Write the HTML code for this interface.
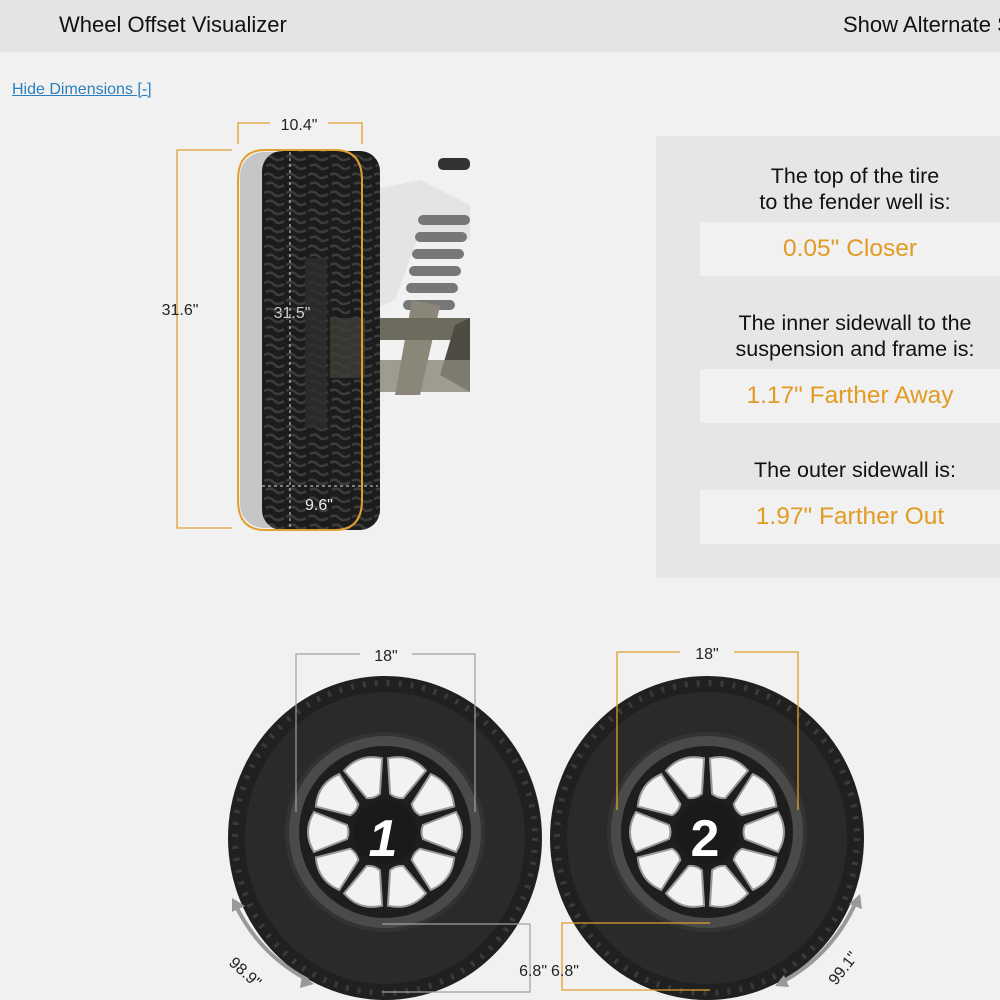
<!DOCTYPE html>
<html><head><meta charset="utf-8">
<style>
html,body{margin:0;padding:0;background:#f1f1f1;}
body{width:1000px;height:1000px;overflow:hidden;position:relative;font-family:"Liberation Sans",Arial,sans-serif;}
.hdr{position:absolute;left:0;top:0;width:1000px;height:52px;background:#e4e4e4;overflow:hidden;}
.hdr .t{position:absolute;left:59px;top:12px;font-size:22px;color:#111;}
.hdr .r{position:absolute;left:843px;top:12px;width:157px;overflow:hidden;font-size:22px;color:#111;white-space:nowrap;}
.link{position:absolute;left:12px;top:81px;font-size:16px;color:#2a7fc0;text-decoration:underline;}
.panel{position:absolute;left:656px;top:136px;width:344px;height:442px;background:#e6e6e6;}
.h{position:absolute;left:700px;width:300px;text-align:center;font-size:21.5px;color:#111;line-height:26px;white-space:nowrap;}
.box{position:absolute;left:700px;width:300px;height:54px;background:#f1f1f1;text-align:center;line-height:54px;font-size:24.5px;color:#e29b24;}
svg{position:absolute;left:0;top:0;}
</style></head><body>
<div class="hdr"><div class="t">Wheel Offset Visualizer</div><div class="r">Show Alternate Sizes</div></div>
<div class="link">Hide Dimensions [-]</div>
<div class="panel"></div>
<div class="h" style="top:163px;left:705px">The top of the tire<br>to the fender well is:</div>
<div class="box" style="top:222px">0.05" Closer</div>
<div class="h" style="top:310px;left:705px">The inner sidewall to the<br>suspension and frame is:</div>
<div class="box" style="top:369px">1.17" Farther Away</div>
<div class="h" style="top:457px;left:705px">The outer sidewall is:</div>
<div class="box" style="top:490px">1.97" Farther Out</div>

<svg width="1000" height="1000" viewBox="0 0 1000 1000" font-family="Liberation Sans, Arial, sans-serif">
<defs>
<path id="win" d="M -7,-38 L -20,-71 Q 0,-83 20,-71 L 7,-38 Q 0,-35 -7,-38 Z"/>
<pattern id="tread" width="22" height="18" patternUnits="userSpaceOnUse">
<rect width="22" height="18" fill="#1c1c1c"/>
<path d="M2 4 q5 -3 9 1 q4 4 9 0 M0 13 q5 -3 9 1 q4 4 11 0" stroke="#3c3c3c" stroke-width="2.5" fill="none"/>
</pattern>
<g id="wheel">
<ellipse cx="0" cy="0" rx="157" ry="162" fill="#202020"/>
<ellipse cx="0" cy="0" rx="150" ry="155" fill="none" stroke="#3a3a3a" stroke-width="6" stroke-dasharray="3 9"/>
<ellipse cx="0" cy="0" rx="140" ry="146" fill="#2a2a2a"/>
<circle cx="0" cy="-6" r="100" fill="#333"/>
<circle cx="0" cy="-6" r="96" fill="#4a4a4a"/>
<circle cx="0" cy="-6" r="86" fill="#1e1e1e"/>
<g transform="translate(0,-6)" fill="#f2f2f2" stroke="#999" stroke-width="2">
<use href="#win" transform="rotate(18)"/><use href="#win" transform="rotate(54)"/>
<use href="#win" transform="rotate(90)"/><use href="#win" transform="rotate(126)"/>
<use href="#win" transform="rotate(162)"/><use href="#win" transform="rotate(198)"/>
<use href="#win" transform="rotate(234)"/><use href="#win" transform="rotate(270)"/>
<use href="#win" transform="rotate(306)"/><use href="#win" transform="rotate(342)"/>
</g>
<circle cx="0" cy="-6" r="32" fill="#1a1a1a"/>
</g>
</defs>

<path d="M372 190 L420 180 L470 205 L470 240 L420 232 L395 300 L372 310 Z" fill="#e4e4e4"/>
<rect x="438" y="158" width="32" height="12" rx="5" fill="#333"/>
<g fill="#777">
<rect x="418" y="215" width="52" height="10" rx="5"/><rect x="415" y="232" width="52" height="10" rx="5"/>
<rect x="412" y="249" width="52" height="10" rx="5"/><rect x="409" y="266" width="52" height="10" rx="5"/>
<rect x="406" y="283" width="52" height="10" rx="5"/><rect x="403" y="300" width="52" height="10" rx="5"/>
</g>
<path d="M412 300 L440 306 L420 395 L395 395 Z" fill="#8a8778"/>
<rect x="340" y="318" width="130" height="22" fill="#6d6b5e"/>
<path d="M455 325 L470 318 L470 392 L440 375 Z" fill="#4e4c42"/>
<path d="M340 360 L470 360 L470 392 L360 392 Z" fill="#8a8778" opacity="0.8"/>

<rect x="240" y="152" width="60" height="376" rx="24" fill="#c6c6c6"/>
<rect x="262" y="151" width="118" height="379" rx="20" fill="url(#tread)"/>
<rect x="305" y="258" width="22" height="170" fill="#2e2e2e" opacity="0.8"/>
<rect x="330" y="318" width="35" height="60" fill="#3e3d36" opacity="0.8"/>
<path d="M262 150 L335 150 Q362 150 362 180 L362 500 Q362 530 335 530 L265 530 Q238 530 238 500 L238 180 Q238 150 265 150 Z" fill="none" stroke="#e0a030" stroke-width="2"/>
<line x1="290" y1="152" x2="290" y2="528" stroke="#ddd" stroke-width="1" stroke-dasharray="3 3"/>
<line x1="262" y1="486" x2="378" y2="486" stroke="#ddd" stroke-width="1" stroke-dasharray="3 3"/>
<text x="292" y="318" font-size="16" fill="#ccc" text-anchor="middle">31.5"</text>
<text x="319" y="510" font-size="16" fill="#eee" text-anchor="middle">9.6"</text>

<g stroke="#e0a030" stroke-width="1.3" fill="none">
<polyline points="238,144 238,123 270,123"/>
<polyline points="328,123 362,123 362,144"/>
<polyline points="232,150 177,150 177,528 232,528"/>
</g>
<text x="299" y="130" font-size="16" fill="#222" text-anchor="middle">10.4"</text>
<text x="180" y="315" font-size="16" fill="#222" text-anchor="middle">31.6"</text>

<use href="#wheel" transform="translate(385,838)"/>
<use href="#wheel" transform="translate(707,838)"/>
<text x="383" y="856" font-size="52" font-weight="bold" fill="#fff" text-anchor="middle" font-style="italic">1</text>
<text x="705" y="856" font-size="52" font-weight="bold" fill="#fff" text-anchor="middle">2</text>

<g stroke="#a0a0a0" stroke-width="1.2" fill="none">
<polyline points="296,812 296,654 360,654"/>
<polyline points="412,654 475,654 475,812"/>
<polyline points="382,924 530,924 530,992 382,992"/>
</g>
<g stroke="#e0a030" stroke-width="1.3" fill="none">
<polyline points="617,810 617,652 680,652"/>
<polyline points="734,652 798,652 798,810"/>
<polyline points="710,923 562,923 562,990 710,990"/>
</g>
<text x="386" y="661" font-size="16" fill="#222" text-anchor="middle">18"</text>
<text x="707" y="659" font-size="16" fill="#222" text-anchor="middle">18"</text>
<text x="547" y="976" font-size="16" fill="#222" text-anchor="end">6.8"</text>
<text x="551" y="976" font-size="16" fill="#222">6.8"</text>

<g stroke="#999" stroke-width="4" fill="none">
<path d="M236 906 Q260 955 308 980"/>
<path d="M856 902 Q832 955 782 982"/>
</g>
<g fill="#999">
<path d="M232 898 L245 906 L232 912 Z"/>
<path d="M314 984 L300 988 L302 975 Z"/>
<path d="M860 894 L862 909 L849 904 Z"/>
<path d="M775 986 L784 975 L789 987 Z"/>
</g>
<text transform="translate(228,964) rotate(42)" font-size="16" fill="#222">98.9"</text>
<text transform="translate(836,986) rotate(-52)" font-size="16" fill="#222">99.1"</text>
</svg>
</body></html>
